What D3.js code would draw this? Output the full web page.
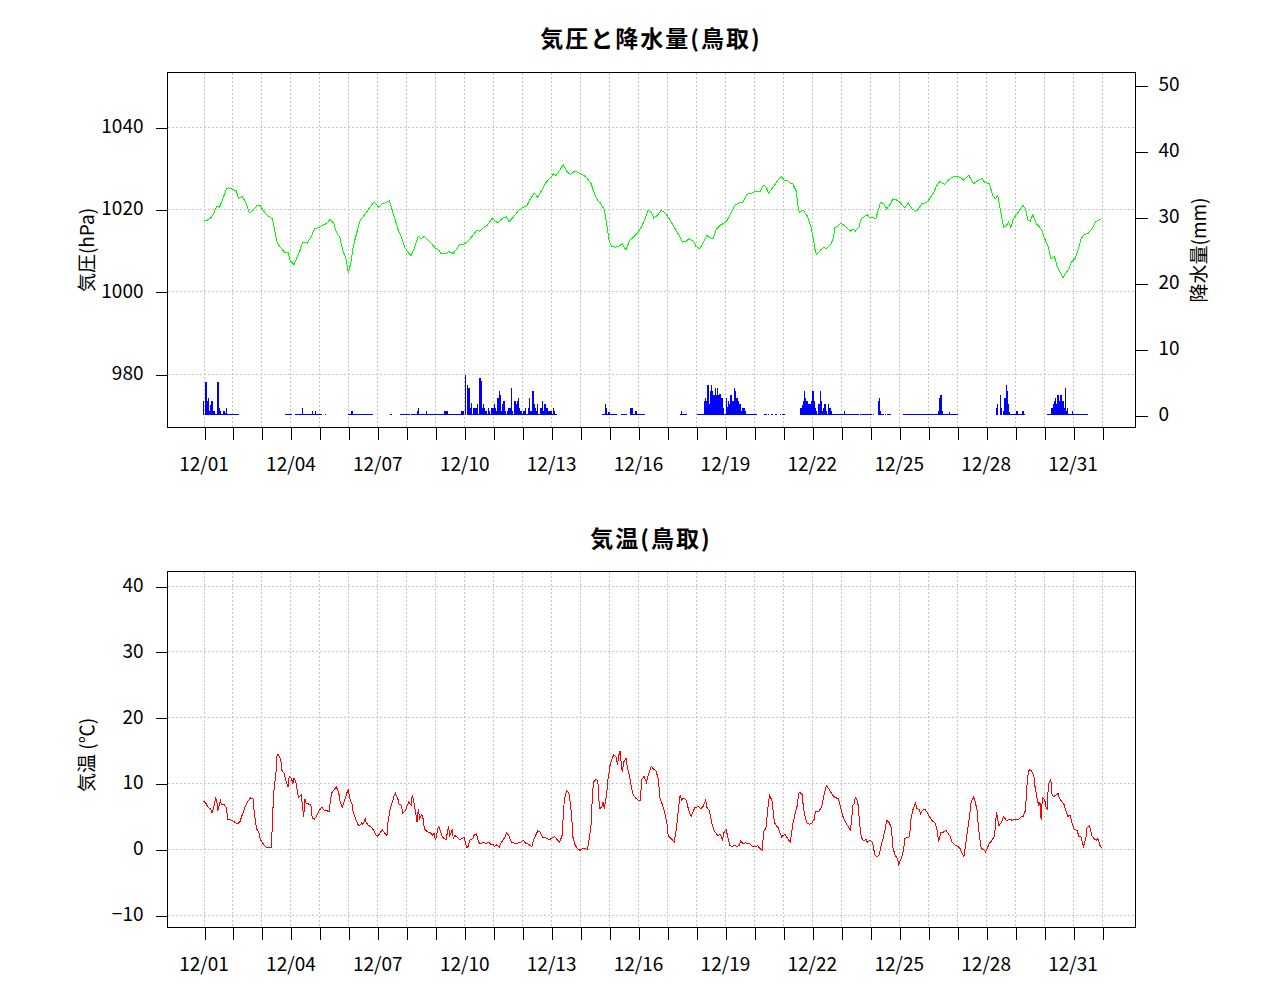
<!DOCTYPE html>
<html><head><meta charset="utf-8">
<script src="https://cdn.jsdelivr.net/npm/d3@7"></script>
<style>
body{margin:0;background:#fff}
text{font-family:"Noto Sans CJK JP","Noto Sans",sans-serif;fill:#000}
</style>
</head><body>
<svg id="chart" width="1280" height="1000"></svg>
<script>
// ---------- DATA (hours since 12/01 00:00) ----------
const pressure = [[0,1017.2],[3,1017.2],[6,1017.8],[8,1018.6],[11,1020.6],[13,1020.4],[15,1021.6],[19,1024.9],[21,1025.1],[23,1024.9],[27,1024.4],[29,1022.6],[32,1023.0],[35,1021.6],[38,1019.0],[41,1019.6],[44,1020.7],[47,1020.7],[50,1019.4],[52,1018.6],[57,1017.6],[59,1014.7],[61,1011.9],[63,1010.9],[67,1009.5],[70,1009.5],[72,1007.3],[75,1006.5],[77,1007.9],[80,1009.9],[82,1011.9],[86,1011.7],[89,1013.1],[92,1015.2],[96,1015.5],[99,1016.1],[102,1016.4],[105,1017.5],[108,1016.4],[110,1014.3],[113,1013.1],[115,1010.3],[118,1007.9],[120,1004.4],[122,1006.7],[124,1010.7],[127,1014.3],[130,1017.4],[132,1018.0],[135,1019.2],[138,1020.4],[141,1021.6],[143,1021.2],[145,1020.4],[148,1021.2],[150,1021.4],[154,1021.9],[156,1020.0],[159,1017.2],[161,1015.1],[164,1013.1],[167,1010.5],[170,1009.2],[172,1008.7],[175,1010.7],[178,1013.3],[180,1012.7],[183,1013.3],[186,1012.5],[189,1011.5],[192,1010.5],[195,1009.9],[197,1009.1],[201,1009.1],[203,1009.6],[207,1009.2],[210,1010.3],[212,1011.3],[215,1011.3],[218,1011.9],[222,1013.1],[226,1014.7],[229,1014.6],[232,1015.5],[235,1016.0],[239,1017.6],[241,1017.2],[244,1016.5],[247,1017.6],[251,1018.1],[253,1016.9],[257,1018.1],[261,1019.6],[265,1020.4],[268,1020.8],[270,1022.0],[274,1023.8],[277,1022.8],[280,1024.4],[284,1026.5],[287,1027.4],[290,1028.5],[292,1028.1],[295,1029.3],[298,1030.7],[301,1029.1],[304,1028.3],[307,1029.1],[310,1028.9],[314,1028.3],[317,1027.7],[321,1026.2],[324,1023.6],[327,1021.8],[329,1021.4],[332,1019.8],[334,1016.4],[336,1012.3],[338,1010.9],[341,1010.7],[344,1010.9],[347,1011.5],[350,1010.0],[353,1012.3],[356,1013.1],[359,1013.9],[363,1015.7],[366,1017.6],[368,1019.6],[371,1019.2],[373,1017.8],[376,1018.4],[379,1019.6],[382,1019.2],[385,1018.0],[388,1016.5],[392,1014.6],[395,1013.1],[397,1011.9],[400,1012.1],[402,1012.7],[406,1012.1],[408,1010.9],[411,1010.3],[414,1011.7],[417,1013.5],[419,1013.1],[422,1012.7],[425,1015.1],[428,1016.0],[433,1016.8],[436,1018.4],[440,1020.8],[443,1021.4],[447,1021.6],[450,1023.5],[454,1023.8],[458,1024.3],[461,1024.1],[464,1025.7],[466,1025.4],[468,1023.8],[472,1025.3],[476,1027.0],[479,1027.8],[481,1027.0],[484,1026.9],[486,1026.2],[488,1026.2],[491,1024.4],[493,1019.6],[494,1019.2],[497,1019.6],[500,1018.4],[503,1016.0],[505,1013.1],[507,1009.5],[508,1008.9],[511,1009.9],[514,1010.7],[516,1010.3],[520,1011.5],[522,1013.1],[523,1015.4],[526,1015.9],[528,1016.5],[531,1015.9],[533,1015.4],[536,1014.6],[538,1015.1],[540,1014.6],[543,1015.5],[545,1017.6],[550,1018.6],[552,1017.8],[555,1017.8],[557,1017.6],[559,1019.6],[561,1021.6],[564,1021.1],[566,1020.0],[569,1021.1],[571,1022.4],[574,1022.2],[577,1021.6],[581,1020.2],[584,1021.4],[587,1020.0],[590,1019.4],[592,1019.8],[595,1021.2],[599,1021.5],[601,1022.2],[605,1024.0],[607,1025.3],[610,1026.7],[614,1025.9],[617,1026.9],[620,1027.7],[624,1027.8],[627,1027.7],[630,1026.9],[634,1028.2],[638,1026.1],[641,1026.7],[645,1027.4],[647,1026.5],[651,1026.1],[654,1023.2],[656,1022.4],[658,1023.2],[660,1020.0],[663,1015.5],[665,1015.9],[667,1016.8],[669,1015.5],[671,1017.6],[675,1019.2],[679,1020.8],[681,1020.0],[683,1017.3],[685,1017.0],[687,1018.6],[690,1016.4],[694,1015.1],[697,1012.7],[700,1010.7],[702,1007.9],[705,1008.5],[707,1006.2],[710,1004.4],[712,1003.3],[714,1004.2],[717,1005.4],[719,1007.1],[722,1007.9],[725,1010.3],[727,1012.7],[730,1013.8],[733,1014.1],[736,1015.1],[739,1016.8],[742,1017.3],[744,1017.4]];

const temperature = [[0,7.2],[2,6.9],[4,6.2],[6,6.1],[7,5.4],[9,6.6],[10,7.7],[11,7.3],[12,5.8],[14,7.3],[15,6.7],[17,6.7],[19,6.3],[20,4.4],[22,4.4],[24,4.3],[26,4.0],[28,3.8],[30,4.0],[32,5.1],[35,6.6],[37,7.3],[39,7.7],[41,7.6],[42,5.6],[44,3.0],[46,2.4],[47,1.4],[50,0.6],[52,0.25],[54,0.15],[56,0.15],[57,3.3],[58,8.3],[60,11.4],[61,14.4],[62,14.3],[64,13.6],[65,11.9],[67,11.4],[68,10.5],[70,9.4],[71,11.0],[73,10.6],[74,9.9],[75,10.8],[77,9.8],[78,8.3],[79,7.8],[81,8.2],[83,4.8],[84,7.6],[85,6.9],[87,6.8],[89,6.6],[90,4.7],[92,4.5],[94,5.1],[96,5.8],[98,6.3],[100,5.8],[102,5.8],[104,5.6],[106,8.4],[108,8.9],[110,9.4],[112,8.6],[113,7.3],[115,6.3],[117,7.4],[119,8.6],[120,9.1],[121,7.7],[123,6.8],[124,5.6],[126,4.5],[128,3.7],[129,3.5],[131,3.9],[132,3.7],[134,4.5],[135,3.9],[137,3.5],[139,3.3],[141,2.8],[143,2.0],[144,1.9],[146,2.3],[148,2.9],[150,2.4],[152,2.0],[153,4.3],[155,6.3],[156,6.8],[158,8.1],[159,8.4],[161,7.6],[162,6.8],[164,6.6],[165,5.4],[167,5.7],[169,6.6],[170,7.1],[172,6.6],[173,8.2],[174,7.3],[175,6.3],[177,4.0],[178,6.1],[179,4.5],[181,5.2],[182,4.5],[183,3.0],[186,2.5],[188,2.4],[190,2.0],[191,2.3],[192,1.4],[193,1.8],[194,3.0],[195,3.4],[197,2.3],[198,1.7],[200,1.5],[201,1.4],[203,3.4],[204,2.0],[206,2.8],[207,1.5],[208,2.0],[210,1.8],[212,1.4],[214,1.5],[216,1.7],[218,0.25],[219,0.25],[221,1.4],[223,1.5],[224,2.0],[226,2.3],[228,0.9],[230,0.8],[232,1.0],[234,0.8],[236,1.0],[238,0.7],[240,0.6],[241,0.35],[243,0.6],[245,0.25],[246,0.8],[247,1.0],[250,1.8],[251,2.4],[253,2.0],[255,1.0],[257,0.9],[259,0.7],[261,0.9],[263,1.0],[265,1.3],[267,0.8],[269,0.7],[272,0.35],[273,1.0],[275,2.0],[277,2.7],[279,2.5],[281,1.7],[283,1.7],[285,1.5],[287,1.4],[289,1.7],[291,1.8],[293,1.4],[295,1.0],[297,1.9],[298,4.7],[299,7.6],[301,8.8],[302,8.6],[303,8.3],[305,5.1],[306,1.8],[308,0.5],[310,0],[312,-0.25],[314,0],[316,0],[318,-0.15],[319,0.8],[321,3.3],[322,7.3],[323,10.1],[325,10.5],[326,10.5],[327,9.8],[328,6.1],[330,6.3],[331,7.1],[332,6.1],[334,8.3],[335,10.4],[336,11.6],[337,12.9],[339,13.9],[340,14.3],[342,13.9],[343,12.8],[344,14.1],[345,14.9],[347,11.6],[348,13.1],[350,13.8],[351,12.6],[353,10.9],[355,8.9],[356,8.2],[358,7.7],[360,7.4],[362,7.4],[363,10.5],[365,11.0],[367,10.1],[369,11.5],[371,12.5],[373,12.1],[375,11.8],[377,10.4],[378,7.8],[380,6.8],[382,5.6],[384,3.8],[385,2.0],[388,1.4],[390,1.0],[392,3.3],[394,6.9],[395,8.2],[396,7.4],[398,7.7],[400,7.4],[402,5.8],[404,4.9],[406,5.8],[407,6.2],[410,6.4],[412,6.1],[414,6.4],[416,7.4],[417,6.3],[419,5.8],[421,4.0],[423,2.8],[426,2.0],[428,2.2],[430,1.4],[431,2.4],[433,2.9],[435,1.3],[436,0.5],[438,0.35],[440,0.5],[442,0.35],[444,0.5],[445,1.2],[447,0.8],[449,0.9],[451,0.8],[453,0.7],[455,0.35],[458,0.35],[459,0.5],[461,0],[463,-0.25],[464,2.5],[466,3.2],[468,6.8],[469,8.1],[471,7.3],[473,4.0],[475,3.4],[476,3.2],[479,1.8],[480,2.0],[482,2.2],[484,1.5],[486,1.0],[487,2.0],[488,3.5],[490,5.2],[492,6.6],[493,8.3],[494,8.6],[496,8.2],[497,6.3],[499,4.4],[500,3.9],[502,3.7],[504,3.9],[506,4.5],[507,5.6],[510,5.7],[512,6.3],[514,8.1],[516,9.6],[517,9.4],[519,8.8],[521,8.2],[523,7.8],[526,7.6],[528,6.1],[530,4.8],[532,4.0],[534,3.4],[536,2.8],[537,4.5],[538,6.6],[539,6.8],[540,7.8],[542,7.3],[543,5.1],[544,3.2],[545,1.7],[547,1.2],[549,1.4],[550,1.0],[552,1.3],[554,1.0],[555,0.35],[556,-0.85],[558,-1.25],[560,-0.85],[561,0.25],[563,1.5],[565,3.2],[566,4.3],[568,4.0],[570,3.2],[571,0.25],[573,-1.0],[575,-1.5],[576,-2.4],[578,-1.5],[580,-0.25],[581,1.5],[583,1.7],[585,1.8],[586,4.4],[588,6.1],[590,6.9],[591,6.1],[593,5.9],[594,5.3],[596,5.9],[598,5.9],[600,5.4],[602,4.7],[604,4.2],[606,4.0],[608,2.7],[609,1.0],[611,2.5],[613,2.5],[615,2.8],[617,2.3],[619,1.8],[620,1.0],[623,0.5],[625,0.35],[627,0],[628,-0.5],[630,-1.2],[631,0],[633,2.8],[635,5.4],[636,7.1],[638,7.8],[639,7.4],[641,5.8],[642,3.3],[644,0.35],[645,0],[647,-0.25],[648,-0.5],[650,0.35],[651,0.8],[653,1.2],[655,1.8],[656,3.2],[657,5.6],[658,4.4],[659,3.5],[661,4.0],[663,4.9],[665,4.3],[667,4.4],[668,4.5],[670,4.3],[672,4.5],[675,4.4],[677,4.8],[679,4.9],[681,5.8],[682,9.1],[683,11.1],[684,12.0],[686,11.8],[688,11.1],[689,9.3],[691,7.3],[692,6.6],[693,7.1],[694,4.4],[695,7.8],[697,7.4],[698,6.3],[699,6.1],[700,9.8],[702,10.5],[703,8.3],[704,7.9],[706,8.1],[708,8.4],[709,7.7],[711,7.2],[713,6.7],[714,6.1],[716,4.9],[718,5.1],[719,4.3],[721,3.0],[722,2.9],[724,2.8],[725,1.9],[727,1.8],[729,0.35],[731,1.5],[732,3.2],[734,3.5],[736,2.0],[738,1.5],[740,1.3],[741,1.5],[743,0.35],[744,0.15]];

// hourly precipitation (mm) for hours with rain
const precipitation = [[0,2.0],[2,5.0],[3,2.0],[4,2.5],[5,0.5],[6,1.5],[7,2.0],[8,0.5],[9,0.5],[12,5.0],[13,1.0],[14,0.5],[17,0.5],[18,0.3],[19,1.0],[82,1.0],[90,0.5],[93,0.5],[123,0.5],[177,0.5],[178,1.0],[185,0.5],[200,0.5],[201,0.5],[202,0.5],[214,0.5],[215,0.5],[217,6.0],[219,4.5],[220,4.0],[221,1.0],[222,1.7],[224,1.0],[225,1.0],[226,1.0],[227,1.6],[229,5.5],[230,5.1],[231,1.0],[232,1.6],[233,1.0],[234,0.5],[236,1.0],[237,0.5],[239,1.0],[240,1.0],[241,1.6],[242,1.0],[243,0.5],[244,2.5],[245,3.5],[246,3.0],[247,0.5],[248,1.6],[249,2.0],[250,0.5],[252,0.5],[253,1.0],[254,1.0],[255,4.0],[256,0.5],[258,2.0],[259,1.6],[260,2.0],[261,2.5],[262,1.0],[263,0.5],[265,0.5],[266,0.5],[267,1.0],[269,1.0],[270,2.5],[271,0.5],[272,0.5],[273,3.5],[274,1.6],[275,1.0],[276,0.5],[277,1.6],[279,1.0],[280,1.0],[281,2.0],[282,0.5],[283,1.6],[284,1.0],[285,1.0],[286,0.5],[287,0.5],[288,0.5],[290,1.0],[291,0.5],[333,1.6],[334,1.0],[336,0.4],[354,1.0],[355,1.0],[358,0.5],[359,0.5],[396,0.5],[415,2.1],[416,2.5],[417,2.0],[418,4.5],[419,1.6],[420,3.5],[421,4.5],[422,3.5],[423,3.0],[424,4.0],[425,3.0],[426,4.0],[427,3.0],[428,3.1],[429,2.5],[430,2.5],[431,1.0],[433,2.5],[434,1.1],[435,2.0],[436,1.6],[437,3.0],[438,2.1],[439,2.1],[440,4.0],[441,3.5],[442,2.5],[443,2.0],[444,1.6],[445,1.6],[446,0.5],[447,1.0],[448,1.0],[449,0.5],[495,1.0],[496,1.5],[497,2.1],[498,3.6],[499,2.5],[500,2.1],[501,1.6],[502,1.6],[503,1.6],[504,2.1],[505,3.6],[506,2.1],[507,1.0],[508,0.5],[510,1.6],[511,3.6],[512,2.1],[513,0.5],[514,1.0],[515,1.6],[516,0.5],[518,1.6],[519,1.0],[520,0.5],[531,0.5],[559,2.1],[560,2.5],[561,0.5],[609,0.5],[610,2.5],[611,3.0],[612,0.5],[618,0.4],[657,1.0],[658,1.6],[660,3.0],[661,1.0],[663,0.5],[664,2.5],[665,4.5],[666,3.6],[667,1.6],[668,0.4],[674,0.5],[679,0.5],[703,1.0],[704,1.6],[705,2.1],[706,2.5],[707,1.6],[708,3.0],[709,2.1],[710,3.0],[711,3.0],[712,2.1],[713,1.0],[714,4.0],[715,0.5],[716,1.0],[720,0.5]];

// hour ranges observed with 0.0 mm
const precipZeroRuns = [[10,11],[15,16],[20,29],[68,73],[76,81],[83,89],[91,92],[94,98],[101,101],[120,122],[124,140],[155,156],[163,176],[179,184],[186,199],[203,213],[223,223],[228,228],[235,235],[238,238],[251,251],[257,257],[264,264],[268,268],[278,278],[289,289],[292,292],[331,332],[335,335],[337,342],[346,350],[356,357],[360,365],[395,395],[397,400],[409,414],[432,432],[450,458],[465,466],[468,468],[471,471],[474,475],[478,478],[480,481],[509,509],[517,517],[521,530],[532,553],[555,555],[562,563],[565,565],[567,569],[580,608],[613,617],[619,625],[669,673],[675,678],[680,680],[699,702],[717,719],[721,732]];

const dayTicks = ["12/01","12/02","12/03","12/04","12/05","12/06","12/07","12/08","12/09","12/10","12/11","12/12","12/13","12/14","12/15","12/16","12/17","12/18","12/19","12/20","12/21","12/22","12/23","12/24","12/25","12/26","12/27","12/28","12/29","12/30","12/31","01/01"];
const labelledDays = ["12/01","12/04","12/07","12/10","12/13","12/16","12/19","12/22","12/25","12/28","12/31"];
const pressureTicks = [980,1000,1020,1040];
const precipTicks = [0,10,20,30,40,50];
const tempTicks = [-10,0,10,20,30,40];

// ---------- LAYOUT ----------
const svg = d3.select("#chart");
const LEFT = 167.5, RIGHT = 1135.5;
const topP = {top:72.5, bottom:427.5};
const botP = {top:571.5, bottom:927.5};
const GRID = "#c4c4c4";

const x = d3.scaleLinear().domain([0, 744]).range([203.5, 1101.5]);
const dayHour = (d) => dayTicks.indexOf(d) * 24;

const yP = d3.scaleLinear().domain([980, 1040]).range([373.5, 126.5]);
const yR = d3.scaleLinear().domain([0, 50]).range([414.5, 84.5]);
const yT = d3.scaleLinear().domain([-10, 40]).range([914.5, 585.5]);

function panel(p, yScale, yTicks) {
  const g = svg.append("g");
  g.selectAll(".vg").data(dayTicks).join("line")
    .attr("x1", d => Math.round(x(dayHour(d))) + 0.5).attr("x2", d => Math.round(x(dayHour(d))) + 0.5)
    .attr("y1", p.top).attr("y2", p.bottom)
    .attr("stroke", GRID).attr("stroke-dasharray", "2,2").attr("shape-rendering", "crispEdges");
  g.selectAll(".hg").data(yTicks).join("line")
    .attr("x1", LEFT).attr("x2", RIGHT)
    .attr("y1", d => Math.round(yScale(d)) + 0.5).attr("y2", d => Math.round(yScale(d)) + 0.5)
    .attr("stroke", GRID).attr("stroke-dasharray", "2,2").attr("shape-rendering", "crispEdges");
  return g;
}

function frame(p, yScale, yTicks) {
  const g = svg.append("g");
  g.append("rect").attr("x", LEFT).attr("y", p.top)
    .attr("width", RIGHT - LEFT).attr("height", p.bottom - p.top)
    .attr("fill", "none").attr("stroke", "#000").attr("shape-rendering", "crispEdges");
  const la = g.append("g").attr("transform", `translate(${LEFT},0)`)
    .call(d3.axisLeft(yScale).tickValues(yTicks).tickSize(12).tickPadding(12).tickFormat(d3.format("d")));
  la.select(".domain").remove();
  la.selectAll("line").attr("shape-rendering", "crispEdges")
    .attr("transform", d => `translate(0,${Math.round(yScale(d)) + 0.5 - yScale(d)})`);
  la.selectAll("text").style("font-size", "19px").style("font-family", null);
  const ba = g.append("g").attr("transform", `translate(0,${p.bottom})`)
    .call(d3.axisBottom(x).tickValues(dayTicks.map(dayHour)).tickSize(12)
      .tickFormat(h => { const d = dayTicks[h / 24]; return labelledDays.includes(d) ? d : ""; }));
  ba.select(".domain").remove();
  ba.selectAll("line").attr("shape-rendering", "crispEdges")
    .attr("transform", h => `translate(${Math.round(x(h)) + 0.5 - x(h)},0)`);
  ba.selectAll("text").attr("y", 37).attr("dy", "0.35em").style("font-size", "19px").style("font-family", null);
  return g;
}

// ---------- TOP PANEL ----------
panel(topP, yP, pressureTicks);

const bars = svg.append("g").attr("shape-rendering", "crispEdges");
const zeroHours = precipZeroRuns.flatMap(([a, b]) => d3.range(a, b + 1));
bars.selectAll(".z").data(zeroHours).join("rect")
  .attr("x", h => x(h) - 0.6).attr("width", 1.2)
  .attr("y", yR(0) - 1).attr("height", 1).attr("fill", "#0000ff");
bars.selectAll(".b").data(precipitation).join("rect")
  .attr("x", d => x(d[0]) - 0.6).attr("width", 1.25)
  .attr("y", d => yR(d[1])).attr("height", d => yR(0) - yR(d[1]))
  .attr("fill", "#0000ff");

svg.append("path").datum(pressure)
  .attr("d", d3.line().x(d => x(d[0])).y(d => yP(d[1])))
  .attr("fill", "none").attr("stroke", "#00ff00").attr("stroke-width", 1)
  .attr("shape-rendering", "crispEdges");

frame(topP, yP, pressureTicks);

const ra = svg.append("g").attr("transform", `translate(${RIGHT},0)`)
  .call(d3.axisRight(yR).tickValues(precipTicks).tickSize(12).tickPadding(11));
ra.select(".domain").remove();
ra.selectAll("line").attr("shape-rendering", "crispEdges")
  .attr("transform", d => `translate(0,${Math.round(yR(d)) + 0.5 - yR(d)})`);
ra.selectAll("text").style("font-size", "19px").style("font-family", null);

svg.append("text").attr("x", 651).attr("y", 37).attr("text-anchor", "middle")
  .attr("dominant-baseline", "central").style("font-size", "23px").style("font-weight", "bold")
  .style("letter-spacing", "2px").text("気圧と降水量(鳥取)");
svg.append("text").attr("transform", "translate(85,250) rotate(-90)").attr("text-anchor", "middle")
  .attr("dominant-baseline", "central").style("font-size", "19px").text("気圧(hPa)");
svg.append("text").attr("transform", "translate(1197,250) rotate(-90)").attr("text-anchor", "middle")
  .attr("dominant-baseline", "central").style("font-size", "19px").text("降水量(mm)");

// ---------- BOTTOM PANEL ----------
panel(botP, yT, tempTicks);
svg.append("path").datum(temperature)
  .attr("d", d3.line().x(d => x(d[0])).y(d => yT(d[1])))
  .attr("fill", "none").attr("stroke", "#ff0000").attr("stroke-width", 1)
  .attr("shape-rendering", "crispEdges");
frame(botP, yT, tempTicks);

svg.append("text").attr("x", 651).attr("y", 537).attr("text-anchor", "middle")
  .attr("dominant-baseline", "central").style("font-size", "23px").style("font-weight", "bold")
  .style("letter-spacing", "2px").text("気温(鳥取)");
svg.append("text").attr("transform", "translate(85,755) rotate(-90)").attr("text-anchor", "middle")
  .attr("dominant-baseline", "central").style("font-size", "19px").text("気温 (℃)");
</script>
</body></html>
